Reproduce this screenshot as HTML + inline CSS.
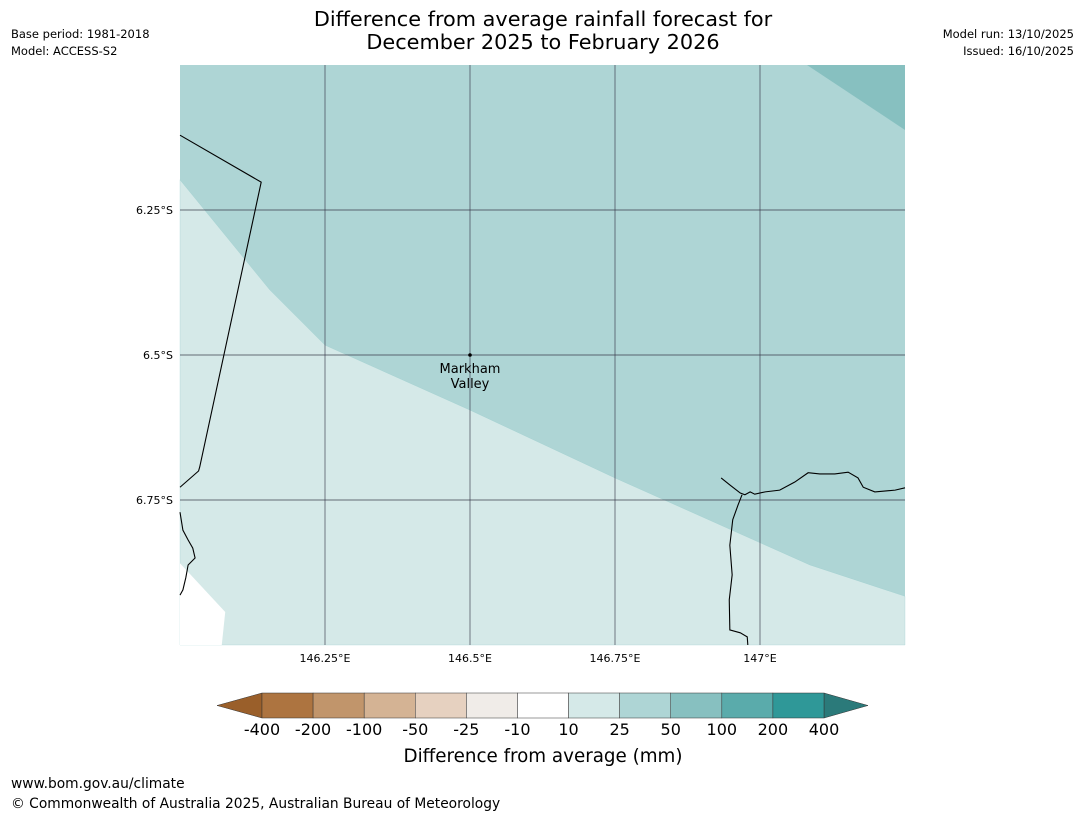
<!DOCTYPE html>
<html><head><meta charset="utf-8"><style>
body{margin:0;background:#fff;font-family:"Liberation Sans","DejaVu Sans",sans-serif}
svg text{font-family:"DejaVu Sans","Liberation Sans",sans-serif}
</style></head><body>
<svg id="c" width="1085" height="816" xmlns="http://www.w3.org/2000/svg">
<text x="543" y="26" font-size="20.8" text-anchor="middle">Difference from average rainfall forecast for</text>
<text x="543" y="49" font-size="20.8" text-anchor="middle">December 2025 to February 2026</text>
<text x="11" y="38" font-size="11.5">Base period: 1981-2018</text>
<text x="11" y="55" font-size="11.5">Model: ACCESS-S2</text>
<text x="1074" y="38" font-size="11.5" text-anchor="end">Model run: 13/10/2025</text>
<text x="1074" y="55" font-size="11.5" text-anchor="end">Issued: 16/10/2025</text>
<g id="map"></g>
<g id="cbar"></g>
<text x="543" y="762" font-size="18.3" text-anchor="middle">Difference from average (mm)</text>
<text x="11" y="788" font-size="13.8">www.bom.gov.au/climate</text>
<text x="11" y="808" font-size="13.8">© Commonwealth of Australia 2025, Australian Bureau of Meteorology</text>
</svg>
<script>
const lonTicks=[146.25,146.5,146.75,147];
const lonLabels=["146.25°E","146.5°E","146.75°E","147°E"];
const latTicks=[6.25,6.5,6.75];
const latLabels=["6.25°S","6.5°S","6.75°S"];
const levels=["-400","-200","-100","-50","-25","-10","10","25","50","100","200","400"];
const levelColors=["#ad7440","#c1956b","#d4b394","#e6d1c0","#f0ece8","#ffffff","#d5e9e8","#aed5d5","#87c0c0","#5aabab","#2f9898"];
const lowColor="#9a5f2a", highColor="#2b7a7a";
const boundary25=[[146,6.198],[146.155,6.388],[146.25,6.483],[146.5,6.595],[146.75,6.712],[147.086,6.862],[147.25,6.916]];
const region50=[[147.081,6.0],[147.25,6.0],[147.25,6.112]];
const regionNoData=[[146,6.859],[146.078,6.943],[146.072,7.0],[146,7.0]];
const border=[[146,6.121],[146.14,6.202],[146.034,6.693],[146.032,6.70],[146,6.728]];
const coastRight=[[146.933,6.712],[146.948,6.724],[146.966,6.738],[146.974,6.741],[146.983,6.736],[146.991,6.740],[147.009,6.736],[147.034,6.733],[147.060,6.719],[147.083,6.703],[147.103,6.705],[147.129,6.705],[147.152,6.702],[147.169,6.712],[147.178,6.728],[147.198,6.736],[147.233,6.733],[147.25,6.729]];
const river=[[146.969,6.741],[146.962,6.759],[146.953,6.784],[146.948,6.828],[146.952,6.879],[146.947,6.922],[146.948,6.974],[146.966,6.979],[146.978,6.986],[146.979,7.0]];
const coastLeft=[[146,6.771],[146.005,6.802],[146.014,6.819],[146.022,6.833],[146.026,6.850],[146.014,6.862],[146.010,6.884],[146.005,6.905],[146,6.914]];
const place={name1:"Markham",name2:"Valley",lon:146.5,lat:6.5};
const X0=180,X1=905,Y0=65,Y1=645,LON0=146,LON1=147.25,LAT0=6,LAT1=7;
const px=l=>X0+(l-LON0)/(LON1-LON0)*(X1-X0);
const py=l=>Y0+(l-LAT0)/(LAT1-LAT0)*(Y1-Y0);
const NS="http://www.w3.org/2000/svg";
const map=document.getElementById('map'), cb=document.getElementById('cbar');
function mk(p,tag,a){const e=document.createElementNS(NS,tag);for(const k in a)e.setAttribute(k,a[k]);p.appendChild(e);return e;}
const pts=a=>a.map(p=>px(p[0])+","+py(p[1])).join(" ");
let e=mk(map,'rect',{x:X0,y:Y0,width:X1-X0,height:Y1-Y0,fill:levelColors[7]});


e=mk(map,'polygon',{points:pts(boundary25.concat([[LON1,LAT1],[LON0,LAT1]])),fill:levelColors[6],stroke:"#9cc",'stroke-width':0.3});


e=mk(map,'polygon',{points:pts(region50),fill:levelColors[8]});


e=mk(map,'polygon',{points:pts(regionNoData),fill:"#fff"});


lonTicks.forEach((t,i)=>{
 e=mk(map,'line',{x1:px(t),x2:px(t),y1:Y0,y2:Y1,stroke:"#334",'stroke-opacity':0.7,'stroke-width':0.9});
 
 
 e=mk(map,'text',{x:px(t),y:Y1+17,'font-size':11,'text-anchor':'middle'});e.textContent=lonLabels[i];
 
 
});
latTicks.forEach((t,i)=>{
 e=mk(map,'line',{x1:X0,x2:X1,y1:py(t),y2:py(t),stroke:"#334",'stroke-opacity':0.7,'stroke-width':0.9});
 
 
 e=mk(map,'text',{x:X0-7,y:py(t)+4,'font-size':11,'text-anchor':'end'});e.textContent=latLabels[i];
 
 
});
[[border,'border-line'],[coastRight,'coastline-east'],[river,'coastline-inlet'],[coastLeft,'coastline-west']].forEach(([a,n])=>{
 e=mk(map,'polyline',{points:pts(a),fill:'none',stroke:'#000','stroke-width':1.1});
 
 
});
e=mk(map,'circle',{cx:px(place.lon),cy:py(place.lat),r:1.8,fill:'#000'});


e=mk(map,'text',{x:px(place.lon),y:py(place.lat)+18,'font-size':13,'text-anchor':'middle'});e.textContent=place.name1;


e=mk(map,'text',{x:px(place.lon),y:py(place.lat)+33,'font-size':13,'text-anchor':'middle'});e.textContent=place.name2;


const CB0=262,CB1=824,CY0=693,CY1=718,n=levelColors.length,w=(CB1-CB0)/n;
e=mk(cb,'polygon',{points:`${CB0},${CY0} ${CB0-45},${(CY0+CY1)/2} ${CB0},${CY1}`,fill:lowColor,stroke:'#333','stroke-width':0.5});


e=mk(cb,'polygon',{points:`${CB1},${CY0} ${CB1+44},${(CY0+CY1)/2} ${CB1},${CY1}`,fill:highColor,stroke:'#333','stroke-width':0.5});


levelColors.forEach((c,i)=>{
 e=mk(cb,'rect',{x:CB0+i*w,y:CY0,width:w,height:CY1-CY0,fill:c,stroke:'#333','stroke-width':0.5});
 
 
});
levels.forEach((l,i)=>{
 e=mk(cb,'text',{x:CB0+i*w,y:735,'font-size':16,'text-anchor':'middle'});e.textContent=l;
 
 
});
</script>
</body></html>
